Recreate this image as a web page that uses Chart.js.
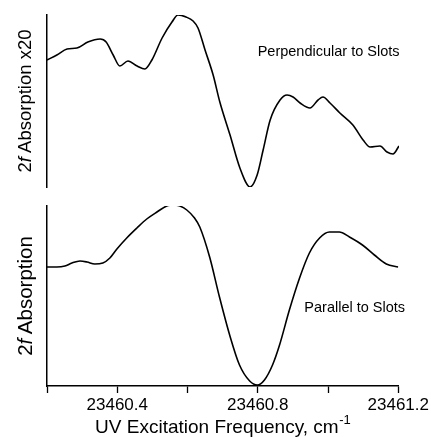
<!DOCTYPE html>
<html>
<head>
<meta charset="utf-8">
<script src="https://cdn.jsdelivr.net/npm/chart.js@4/dist/chart.umd.min.js"></script>
<style>
html,body{margin:0;padding:0;background:#fff;}
#wrap{position:relative;width:431px;height:437px;}
#top{position:absolute;left:0;top:0;width:431px;height:196px;}
#bot{position:absolute;left:0;top:196px;width:431px;height:241px;}
.yt{position:absolute;left:25px;transform:translate(-50%,-50%) rotate(-90deg);white-space:nowrap;line-height:1;
    font-family:'Liberation Sans',Arial,sans-serif;color:#000;}
#yt1{top:101px;font-size:18.5px;}
#yt2{top:296px;font-size:20.5px;}
</style>
</head>
<body>
<div id="wrap">
<div id="top"><canvas id="c1"></canvas></div>
<div id="bot"><canvas id="c2"></canvas></div>
<div class="yt" id="yt1"></div>
<div class="yt" id="yt2"></div>
</div>
<script>
// Frequency (cm^-1) and signal (arbitrary units)
const perpFreq = [23460.200,23460.228,23460.257,23460.285,23460.316,23460.351,23460.368,23460.388,23460.407,23460.430,23460.456,23460.478,23460.498,23460.527,23460.555,23460.572,23460.595,23460.615,23460.629,23460.649,23460.672,23460.691,23460.720,23460.748,23460.777,23460.797,23460.814,23460.834,23460.862,23460.882,23460.899,23460.919,23460.947,23460.970,23460.984,23461.004,23461.032,23461.069,23461.098,23461.118,23461.146,23461.166,23461.183,23461.200];
const perpSignal = [127,132,138,139,145,148,145,132,121,126,121,118,127,149,165,172,170,166,159,137,112,85,52,19,0,12,37,67,87,92,90,84,79,87,90,84,74,62,47,40,41,35,33,41];
const paraFreq = [23460.200,23460.228,23460.251,23460.271,23460.294,23460.314,23460.336,23460.359,23460.379,23460.399,23460.427,23460.456,23460.484,23460.513,23460.541,23460.558,23460.578,23460.598,23460.620,23460.635,23460.663,23460.691,23460.720,23460.748,23460.777,23460.799,23460.819,23460.842,23460.862,23460.890,23460.919,23460.947,23460.976,23461.004,23461.032,23461.061,23461.098,23461.132,23461.166,23461.200];
const paraSignal = [119,119,120,123,125,124,122,123,128,137,148,158,167,174,180,181,180,176,168,159,129,89,51,21,5,1,6,21,41,76,108,133,148,154,154,149,141,131,122,119];
const xTicks = [23460.2,23460.4,23460.6,23460.8,23461.0,23461.2];
const xTickLabels = ['','23460.4','','23460.8','','23461.2'];
const xTitleParts = ['UV Excitation Frequency, cm', '-1'];
const perpYTitle = ['2','f',' Absorption x20'];
const paraYTitle = ['2','f',' Absorption'];
const perpLabel = {text:'Perpendicular to Slots', x:23461.0, y:135};
const paraLabel = {text:'Parallel to Slots', x:23461.076, y:78};

const FONT = "'Liberation Sans', Arial, sans-serif";

function setYTitle(el, parts){
  el.textContent = '';
  parts.forEach((p,i)=>{
    if(i===1){ const it = document.createElement('i'); it.textContent = p; el.appendChild(it); }
    else el.appendChild(document.createTextNode(p));
  });
}
setYTitle(document.getElementById('yt1'), perpYTitle);
setYTitle(document.getElementById('yt2'), paraYTitle);

function toPts(xs, ys){ return xs.map((x,i)=>({x:x, y:ys[i]})); }

function labelPlugin(id, lbl, size){
  return {
    id:id,
    afterDraw(chart){
      const ctx = chart.ctx;
      const px = chart.scales.x.getPixelForValue(lbl.x);
      const py = chart.scales.y.getPixelForValue(lbl.y);
      ctx.save();
      ctx.font = size + 'px ' + FONT;
      ctx.fillStyle = '#000';
      ctx.textAlign = 'center';
      ctx.textBaseline = 'middle';
      ctx.fillText(lbl.text, px, py);
      ctx.restore();
    }
  };
}
const xTitlePlugin = {
  id:'xtitle',
  afterDraw(chart){
    const ctx = chart.ctx, a = chart.chartArea;
    ctx.save();
    ctx.fillStyle = '#000';
    ctx.textBaseline = 'alphabetic';
    ctx.textAlign = 'left';
    ctx.font = '19px ' + FONT;
    const w1 = ctx.measureText(xTitleParts[0]).width;
    ctx.font = '13px ' + FONT;
    const w2 = ctx.measureText(xTitleParts[1]).width;
    const cx = (a.left + a.right)/2;
    const base = chart.height - 4;
    let x = cx - (w1 + w2)/2;
    ctx.font = '19px ' + FONT;
    ctx.fillText(xTitleParts[0], x, base);
    ctx.font = '13px ' + FONT;
    ctx.fillText(xTitleParts[1], x + w1 + 0.5, base - 9);
    ctx.restore();
  }
};

const lineDs = (xs, ys) => ({
  data: toPts(xs, ys),
  borderColor:'#000', borderWidth:1.6, pointRadius:0,
  tension:0.4, cubicInterpolationMode:'monotone', fill:false
});

new Chart(document.getElementById('c1'), {
  type:'line',
  data:{ datasets:[ lineDs(perpFreq, perpSignal) ] },
  options:{
    responsive:true, maintainAspectRatio:false, animation:false,
    layout:{ padding:{left:0, right:32, top:15, bottom:9} },
    plugins:{ legend:{display:false}, tooltip:{enabled:false} },
    scales:{
      x:{ type:'linear', min:23460.2, max:23461.2, display:false },
      y:{ min:0, max:172, position:'left',
          ticks:{display:false}, grid:{display:false},
          border:{display:true, color:'#000', width:1.5},
          afterFit(s){ s.width = 47; } }
    }
  },
  plugins:[ labelPlugin('lbl1', perpLabel, 14.5) ]
});

new Chart(document.getElementById('c2'), {
  type:'line',
  data:{ datasets:[ lineDs(paraFreq, paraSignal) ] },
  options:{
    responsive:true, maintainAspectRatio:false, animation:false,
    layout:{ padding:{left:0, right:32, top:10, bottom:0} },
    plugins:{ legend:{display:false}, tooltip:{enabled:false} },
    scales:{
      x:{ type:'linear', min:23460.2, max:23461.2,
          afterBuildTicks(s){ s.ticks = xTicks.map(v=>({value:v})); },
          ticks:{ autoSkip:false, maxRotation:0, color:'#000', padding:2,
                  font:{family:FONT, size:17},
                  callback(v, i){ return xTickLabels[i]; } },
          grid:{ display:true, drawOnChartArea:false, drawTicks:true, tickLength:7, color:'#000', tickWidth:1.3 },
          border:{display:true, color:'#000', width:1.5},
          afterFit(s){ s.height = 51; } },
      y:{ min:0, max:180, position:'left',
          ticks:{display:false}, grid:{display:false},
          border:{display:true, color:'#000', width:1.5},
          afterFit(s){ s.width = 47; } }
    }
  },
  plugins:[ labelPlugin('lbl2', paraLabel, 14.5), xTitlePlugin ]
});
</script>
</body>
</html>
